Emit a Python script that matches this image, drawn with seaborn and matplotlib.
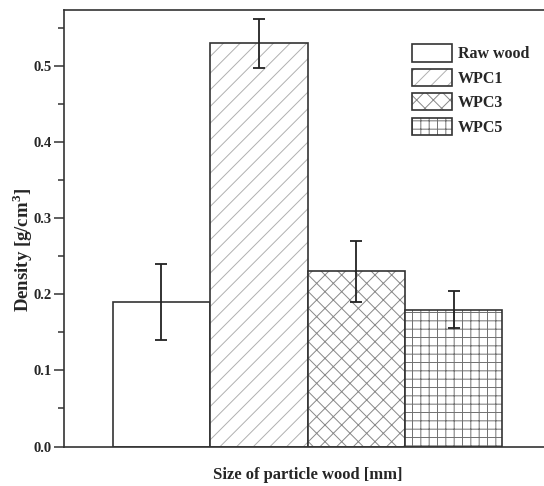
import matplotlib
matplotlib.use("Agg")
import matplotlib.pyplot as plt
import seaborn as sns
import numpy as np
from matplotlib.colors import to_rgba
from matplotlib.ticker import MultipleLocator

categories = ["Raw wood", "WPC1", "WPC3", "WPC5"]
density = [0.19, 0.53, 0.23, 0.18]
errors = [0.05, 0.032, 0.04, 0.024]
hatches = ["", "//", "xx", "++"]
hatch_colors = ["#bbbbbb", "#b0b0b0", "#888888", "#707070"]

sns.set_theme(style="ticks")
plt.rcParams["font.family"] = ["Liberation Serif", "DejaVu Serif"]
plt.rcParams["font.weight"] = "bold"
plt.rcParams["hatch.linewidth"] = 0.7
plt.rcParams["mathtext.fontset"] = "custom"
plt.rcParams["mathtext.rm"] = "Liberation Serif:bold"
plt.rcParams["mathtext.bf"] = "Liberation Serif:bold"

fig = plt.figure(figsize=(5.44, 4.86), dpi=100)
ax = fig.add_axes([64 / 544, 39.5 / 486, 487 / 544, 436.5 / 486])

sns.barplot(x=categories, y=density, hue=categories, palette=["white"] * 4,
            width=1.0, edgecolor="#333333", linewidth=1.2, legend=False,
            errorbar=None, ax=ax)

for p, h, hc in zip(ax.patches, hatches, hatch_colors):
    p.set_hatch(h)
    p._hatch_color = to_rgba(hc)

ax.errorbar(x=np.arange(len(categories)), y=density, yerr=errors, fmt="none",
            ecolor="#222222", elinewidth=1.3, capsize=4, capthick=1.3)

ax.set_xlim(-1.0, 4.0)
ax.set_ylim(0, 0.5736)
ax.yaxis.set_minor_locator(MultipleLocator(0.05))
ax.set_yticks(np.arange(0, 0.51, 0.1))
ax.set_yticklabels([f"{v:.1f}" for v in np.arange(0, 0.51, 0.1)], fontsize=10.5, fontweight="bold")
ax.tick_params(axis="y", which="major", direction="out", length=7, width=1.1, pad=2, color="#333333")
ax.tick_params(axis="y", which="minor", direction="out", length=4, width=1.1, color="#333333")
ax.tick_params(axis="x", length=0, labelbottom=False)
for s in ax.spines.values():
    s.set_linewidth(1.2)
    s.set_color("#333333")

ax.set_xlabel("Size of particle wood [mm]", fontsize=12, fontweight="bold", labelpad=15)
ax.set_ylabel(r"Density [g/cm$^\mathbf{3}$]", fontsize=13.5, fontweight="bold")
ax.yaxis.set_label_coords(-29 / 487, (446.5 - 250) / 436.5)

leg = ax.legend(handles=list(ax.patches), labels=categories, loc="upper left",
                bbox_to_anchor=(401 / 544, 1 - 33 / 486), bbox_transform=fig.transFigure,
                frameon=False, fontsize=11.5, handlelength=2.5, handleheight=1.3,
                labelspacing=0.4, handletextpad=0.35, borderpad=0.2)
for t in leg.get_texts():
    t.set_fontweight("bold")

fig.savefig("out.png", dpi=100)
